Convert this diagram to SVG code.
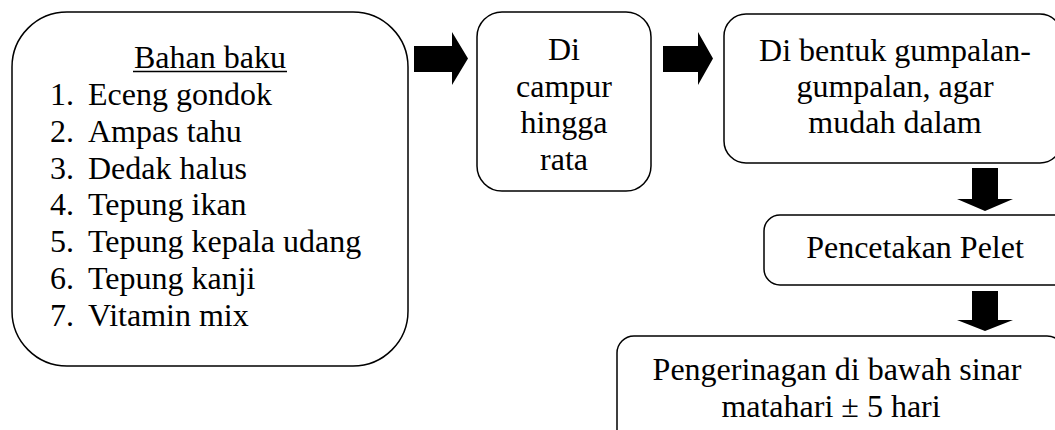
<svg xmlns="http://www.w3.org/2000/svg" width="1055" height="430" viewBox="0 0 1055 430">
<defs>
<style>
.box{fill:#fff;stroke:#000;stroke-width:1.5}
.t{font-family:"Liberation Serif","Times New Roman",serif;font-size:32px;fill:#000}
.c{text-anchor:middle}
.arr{fill:#000;stroke:none}
</style>
</defs>
<rect width="1055" height="430" fill="#fff"/>
<g id="connectors">
<polygon class="arr" points="414,46 452,46 452,32 468,58.5 452,85 452,72 414,72"/>
<polygon class="arr" points="663,46 698,46 698,32 713,58.5 698,85 698,72 663,72"/>
<polygon class="arr" points="972,168 998,168 998,199 1013,199 985,211 957,199 972,199"/>
<polygon class="arr" points="972,291 998,291 998,320 1013,320 985,331 957,320 972,320"/>
</g>
<g id="bahan-baku">
<rect class="box" x="12" y="12" width="396" height="354" rx="55" ry="55"/>
<text class="t c" x="210" y="68">Bahan baku</text>
<line x1="133" y1="71.5" x2="287" y2="71.5" stroke="#000" stroke-width="1.5"/>
<text class="t" x="50" y="105">1.</text><text class="t" x="88" y="105">Eceng gondok</text>
<text class="t" x="50" y="141.8">2.</text><text class="t" x="88" y="141.8">Ampas tahu</text>
<text class="t" x="50" y="178.6">3.</text><text class="t" x="88" y="178.6">Dedak halus</text>
<text class="t" x="50" y="215.4">4.</text><text class="t" x="88" y="215.4">Tepung ikan</text>
<text class="t" x="50" y="252.2">5.</text><text class="t" x="88" y="252.2">Tepung kepala udang</text>
<text class="t" x="50" y="289">6.</text><text class="t" x="88" y="289">Tepung kanji</text>
<text class="t" x="50" y="325.8">7.</text><text class="t" x="88" y="325.8">Vitamin mix</text>
</g>
<g id="campur">
<rect class="box" x="477" y="12" width="174" height="179" rx="25" ry="25"/>
<text class="t c" x="564" y="60">Di</text>
<text class="t c" x="564" y="96.5">campur</text>
<text class="t c" x="564" y="133">hingga</text>
<text class="t c" x="564" y="169.5">rata</text>
</g>
<g id="bentuk">
<rect class="box" x="724" y="14" width="338" height="149" rx="22" ry="22"/>
<text class="t c" x="895" y="61">Di bentuk gumpalan-</text>
<text class="t c" x="895" y="97">gumpalan, agar</text>
<text class="t c" x="895" y="133">mudah dalam</text>
</g>
<g id="pencetakan">
<rect class="box" x="764" y="215" width="310" height="70" rx="16" ry="16"/>
<text class="t c" x="915" y="258">Pencetakan Pelet</text>
</g>
<g id="pengeringan">
<rect class="box" x="617" y="336" width="447" height="130" rx="17" ry="17"/>
<text class="t c" x="837" y="380">Pengerinagan di bawah sinar</text>
<text class="t c" x="831" y="417">matahari ± 5 hari</text>
</g>
</svg>
